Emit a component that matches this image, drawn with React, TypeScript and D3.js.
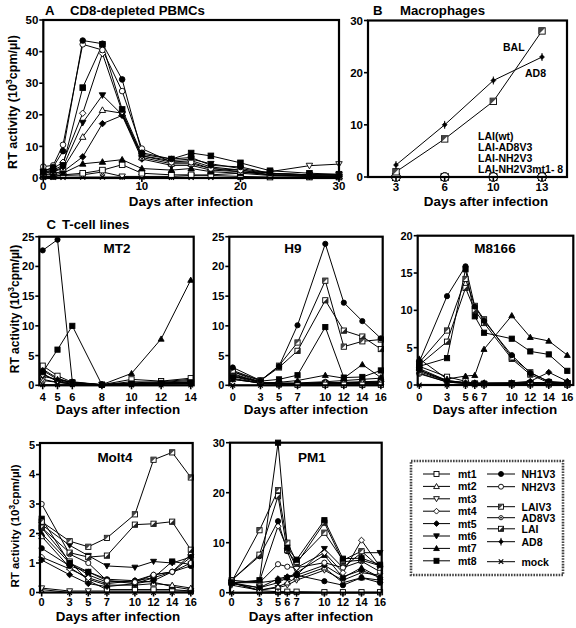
import React from "react";
import * as d3 from "d3";

// ---------- Panel A: CD8-depleted PBMCs ----------
const daysA = [0, 1, 2, 4, 6, 8, 10, 13, 15, 17, 20, 23, 27, 30];
const a_NH1V3 = [2, 3.5, 8.5, 43.5, 42.5, 31.2, 8, 6, 6.5, 4, 3.5, 1.5, 1, 0.8];
const a_NH2V3 = [3.6, 4, 10.5, 42.3, 40.5, 27.5, 9.3, 5, 5, 3, 2.5, 1, 1, 1];
const a_mt8 = [2, 2.5, 4, 28.6, 42.3, 21.7, 7.5, 6, 7.9, 7, 4.8, 2.3, 1.5, 1.2];
const a_mt4 = [2.5, 3, 5, 20.5, 39.4, 21, 7, 5, 5.5, 3.5, 2.5, 1.5, 1, 1];
const a_mt6 = [2, 2, 3.5, 17.5, 26.2, 20, 7, 5.5, 6, 4.5, 3, 1.5, 1, 1];
const a_mt2 = [1.5, 2, 3, 13, 21.5, 20.5, 6.5, 4.5, 4.5, 3, 2, 1, 0.8, 0.5];
const a_mt5 = [1, 1.5, 2, 6.7, 17.2, 19.8, 6, 4, 4, 2.5, 2, 1, 0.5, 0.5];
const a_mt7 = [1, 1, 1.5, 4.5, 5.1, 5.8, 3, 2.5, 3, 2, 1.5, 0.8, 0.5, 0.5];
const a_mt1 = [0.5, 0.5, 1, 1.5, 2.5, 4.2, 1.5, 1, 1, 0.8, 0.5, 0.3, 0.3, 0.3];
const a_mt3 = [0.5, 0.5, 0.8, 1, 1.9, 0.5, 0.5, 0.5, 0.8, 1, 1.5, 2, 3.9, 4.4];
const a_mock = [0.2, 0.2, 0.2, 0.3, 0.3, 0.3, 0.3, 0.2, 0.2, 0.2, 0.2, 0.2, 0.2, 0.2];
const ticksAx = [0, 10, 20, 30];
const ticksAy = [0, 10, 20, 30, 40, 50];

// ---------- Panel B: Macrophages ----------
const daysB = ["3", "6", "10", "13"];
const b_BAL = [1, 7.3, 14.5, 28];
const b_AD8 = [2.3, 10, 18.5, 23];
const b_LAIwt = [0, 0, 0, 0];
const b_LAIAD8V3 = [0, 0, 0, 0];
const b_LAINH2V3 = [0, 0, 0, 0];
const b_LAINH2V3mt = [0, 0, 0, 0];
const ticksBy = [0, 10, 20, 30];
const labelsBzero = ["LAI(wt)", "LAI-AD8V3", "LAI-NH2V3", "LAI-NH2V3mt1- 8"];

// ---------- Panel C: MT2 ----------
const daysMT2 = [4, 5, 6, 8, 10, 12, 14];
const mt2_NH1V3 = [22.7, 24.5, 0.6, 0.1, 0.2, 0.3, 0.3];
const mt2_mt8 = [2.2, 6, 10, 0.1, 0.3, 0.4, 0.5];
const mt2_mt7 = [2.5, 1, 0.4, 0.1, 2, 7.8, 17.7];
const mt2_mt1 = [3.3, 1.6, 0.5, 0.1, 1, 0.7, 1.2];
const mt2_mt2 = [2.7, 1.2, 0.4, 0.1, 0.6, 0.5, 0.8];
const mt2_mt4 = [1.8, 0.8, 0.3, 0.1, 0.4, 0.6, 1];
const mt2_mt5 = [2, 0.6, 0.2, 0.1, 0.3, 0.4, 0.6];
const mt2_mt6 = [1.5, 1, 0.5, 0.1, 0.2, 0.3, 0.4];
const mt2_mt3 = [1, 0.5, 0.2, 0.1, 0.2, 0.2, 0.3];
const mt2_NH2V3 = [0.8, 0.5, 0.3, 0.1, 0.2, 0.3, 0.5];
const mt2_mock = [0.1, 0.1, 0.1, 0.05, 0.05, 0.05, 0.05];
const ticksMT2y = [0, 5, 10, 15, 20, 25];

// ---------- Panel C: H9 ----------
const daysH9 = [0, 3, 5, 7, 10, 12, 14, 16];
const h9_NH1V3 = [3, 0.8, 3.2, 10.1, 23.8, 13.9, 10.8, 7.9];
const h9_LAIV3 = [2.5, 0.8, 3.3, 7.2, 17.6, 6.5, 7.4, 7.7];
const h9_LAI = [2.3, 0.8, 3, 5.8, 14.3, 9.2, 8.2, 6.1];
const h9_mt8 = [1.5, 0.7, 1, 1.7, 9.8, 1.3, 1.4, 2.5];
const h9_mt7 = [1, 0.4, 0.5, 0.8, 1.7, 1.2, 3.5, 1.3];
const h9_mt1 = [2.3, 0.5, 0.2, 0.1, 0.1, 0.1, 0.1, 0.1];
const h9_mt2 = [2, 0.4, 0.3, 0.3, 0.5, 0.4, 0.5, 0.5];
const h9_mt3 = [1.5, 0.3, 0.2, 0.2, 0.3, 0.3, 0.3, 0.3];
const h9_mt4 = [1.8, 0.5, 0.3, 0.3, 0.4, 0.5, 0.6, 0.7];
const h9_mt5 = [1.2, 0.3, 0.2, 0.2, 0.3, 0.4, 0.5, 0.6];
const h9_mt6 = [1, 0.4, 0.3, 0.3, 0.4, 0.4, 0.5, 0.5];
const h9_NH2V3 = [1.6, 0.5, 0.4, 0.4, 0.6, 0.8, 1, 1.2];
const h9_mock = [0, 0, 0, 0, 0, 0, 0, 0];
const ticksH9y = [0, 5, 10, 15, 20, 25];

// ---------- Panel C: M8166 ----------
const daysM8 = [0, 3, 5, 6, 7, 10, 12, 14, 16];
const m8_NH1V3 = [3.1, 11.9, 15.9, 10.5, 8.6, 4, 1.6, 0.5, 0.3];
const m8_mt8 = [2.5, 3.6, 15.5, 9.2, 7, 6.2, 4.5, 4.1, 1.9];
const m8_LAIV3 = [3, 7.3, 14.2, 10.6, 8.8, 3.7, 1.7, 0.4, 0.1];
const m8_LAI = [2.7, 5.8, 13, 10, 8.3, 3.5, 1.4, 0.3, 0.1];
const m8_mt7 = [3.5, 0.8, 1.2, 1.3, 4.8, 9.3, 6.4, 5.9, 4];
const m8_mt5 = [2, 0.5, 0.3, 0.3, 0.3, 0.3, 0.5, 1.7, 0.5];
const m8_mt1 = [2.5, 1.1, 0.5, 0.2, 0.1, 0.1, 0.1, 0.1, 0.1];
const m8_mt2 = [2.2, 0.6, 0.3, 0.2, 0.2, 0.2, 0.3, 0.3, 0.3];
const m8_mt3 = [1.8, 0.5, 0.3, 0.2, 0.2, 0.3, 0.3, 0.3, 0.3];
const m8_mt4 = [1.6, 0.4, 0.2, 0.2, 0.2, 0.2, 0.2, 0.3, 0.3];
const m8_mt6 = [2, 0.6, 0.3, 0.2, 0.2, 0.2, 0.3, 0.3, 0.3];
const m8_NH2V3 = [1.5, 0.4, 0.2, 0.2, 0.2, 0.2, 0.3, 0.2, 0.2];
const m8_mock = [0, 0, 0, 0, 0, 0, 0, 0, 0];
const ticksM8y = [0, 5, 10, 15, 20];

// ---------- Panel C: Molt4 ----------
const daysMolt = [0, 3, 5, 7, 10, 12, 14, 16];
const mo_LAIV3 = [2.4, 1.74, 1.55, 1.85, 2.65, 4.5, 4.75, 3.9];
const mo_LAI = [2.2, 1.35, 1.2, 1.25, 2.3, 2.33, 2.4, 1.45];
const mo_mt6 = [2.3, 1.6, 1.25, 0.9, 0.85, 1.05, 1.0, 1.2];
const mo_NH2V3 = [3.0, 1.3, 1.0, 0.4, 0.35, 0.6, 0.7, 1.0];
const mo_NH1V3 = [1.5, 0.9, 0.7, 0.45, 0.4, 0.5, 0.7, 0.9];
const mo_mt8 = [2.5, 1.0, 0.7, 0.4, 0.3, 0.5, 1.05, 0.95];
const mo_mt5 = [1.1, 0.6, 0.3, 0.2, 0.3, 0.4, 0.7, 1.2];
const mo_mt4 = [1.2, 0.8, 0.5, 0.3, 0.4, 0.6, 0.7, 1.3];
const mo_mt2 = [1.9, 0.85, 0.45, 0.25, 0.25, 0.3, 0.25, 0.15];
const mo_mt7 = [2.0, 1.0, 0.6, 0.35, 0.4, 0.35, 0.2, 0.1];
const mo_mt1 = [2.2, 1.05, 0.4, 0.1, 0.1, 0.1, 0.1, 0.05];
const mo_mt3 = [0.15, 0.05, 0.05, 0.05, 0.05, 0.05, 0.05, 0.05];
const mo_mock = [0.1, 0, 0, 0, 0, 0, 0, 0];
const ticksMoy = [0, 1, 2, 3, 4, 5];

// ---------- Panel C: PM1 ----------
const daysPM1 = [0, 3, 5, 6, 7, 10, 12, 14, 16];
const pm_mt8 = [2, 2.5, 30, 9, 6.6, 14.5, 6.8, 6.9, 5.6];
const pm_LAIV3 = [2.2, 12.5, 20.5, 10, 6.2, 12, 6.5, 8.3, 5];
const pm_LAI = [2.5, 7.6, 19.3, 8.5, 5.8, 14, 6.2, 6.5, 5.4];
const pm_NH1V3 = [2.5, 7.3, 14.3, 8.3, 3.5, 2.3, 1.5, 3, 2];
const pm_mt4 = [2, 2.3, 13.3, 8.8, 5, 8, 4, 10.5, 5.2];
const pm_NH2V3 = [2, 2, 5.7, 5.2, 5, 6, 5, 6.3, 4.2];
const pm_mt6 = [2, 1, 2, 3, 3.5, 8.8, 5, 8, 8];
const pm_mt7 = [2.5, 2, 2.5, 3, 4, 7.5, 3, 5, 3];
const pm_mt5 = [1.8, 1, 2.8, 3.2, 3.5, 5.5, 3.2, 4.5, 3];
const pm_mt2 = [2, 0.5, 1.2, 2, 3, 5, 2, 3, 2.5];
const pm_mt3 = [1.5, 0.5, 1, 1.5, 2.5, 4.5, 2.5, 4, 3.5];
const pm_mt1 = [2, 0.4, 0.2, 0.2, 0.2, 0.1, 0.1, 0.1, 0.1];
const pm_mock = [0, 0, 0, 0, 0, 0, 0, 0, 0];
const ticksPMy = [0, 10, 20, 30];

const ticksC16 = [0, 3, 5, 7, 10, 12, 14, 16];
const ticksC16b = [0, 3, 5, 6, 7, 10, 12, 14, 16];
const ticksMT2x = [4, 5, 6, 8, 10, 12, 14];

// ---------- Legend ----------
const legendLeft = ["mt1", "mt2", "mt3", "mt4", "mt5", "mt6", "mt7", "mt8"];
const legendRight = ["NH1V3", "NH2V3", "LAIV3", "AD8V3", "LAI", "AD8", "mock"];

const markerOf: Record<string, string> = {
  mt1: "sqOpen",
  mt2: "triUpOpen",
  mt3: "triDownOpen",
  mt4: "diaOpen",
  mt5: "diaFill",
  mt6: "triDownFill",
  mt7: "triUpFill",
  mt8: "sqFill",
  NH1V3: "circFill",
  NH2V3: "circOpen",
  LAIV3: "sqHalf",
  AD8V3: "circDot",
  LAI: "sqHalf2",
  AD8: "diaCross",
  mock: "cross",
};

const FONT = "'Liberation Sans', Arial, Helvetica, sans-serif";

type Ser = { key: string; values: number[]; marker?: string; size?: number };

function Marker({ kind, x, y, s = 2.8 }: { kind: string; x: number; y: number; s?: number }) {
  const sw = 0.9;
  switch (kind) {
    case "sqOpen":
      return <rect x={x - s} y={y - s} width={2 * s} height={2 * s} fill="white" stroke="black" strokeWidth={sw} />;
    case "sqFill":
      return <rect x={x - s} y={y - s} width={2 * s} height={2 * s} fill="black" stroke="black" strokeWidth={sw} />;
    case "sqHalf":
      return (
        <g>
          <rect x={x - s} y={y - s} width={2 * s} height={2 * s} fill="white" stroke="black" strokeWidth={sw} />
          <polygon points={`${x - s},${y - s} ${x + s},${y - s} ${x - s},${y + s}`} fill="#444" />
        </g>
      );
    case "sqHalf2":
      return (
        <g>
          <rect x={x - s} y={y - s} width={2 * s} height={2 * s} fill="white" stroke="black" strokeWidth={sw} />
          <polygon points={`${x + s},${y - s} ${x + s},${y + s} ${x - s},${y + s}`} fill="#222" />
        </g>
      );
    case "circOpen":
      return <circle cx={x} cy={y} r={s} fill="white" stroke="black" strokeWidth={sw} />;
    case "circFill":
      return <circle cx={x} cy={y} r={s} fill="black" stroke="black" strokeWidth={sw} />;
    case "circDot":
      return (
        <g>
          <circle cx={x} cy={y} r={s * 0.85} fill="white" stroke="black" strokeWidth={sw} />
          <circle cx={x} cy={y} r={s * 0.35} fill="black" />
        </g>
      );
    case "triUpOpen":
    case "triUpFill": {
      const f = kind === "triUpFill" ? "black" : "white";
      const t = s * 1.15;
      return <polygon points={`${x},${y - t} ${x + t},${y + t * 0.75} ${x - t},${y + t * 0.75}`} fill={f} stroke="black" strokeWidth={sw} />;
    }
    case "triDownOpen":
    case "triDownFill": {
      const f = kind === "triDownFill" ? "black" : "white";
      const t = s * 1.15;
      return <polygon points={`${x},${y + t} ${x + t},${y - t * 0.75} ${x - t},${y - t * 0.75}`} fill={f} stroke="black" strokeWidth={sw} />;
    }
    case "diaOpen":
    case "diaFill": {
      const f = kind === "diaFill" ? "black" : "white";
      const t = s * 1.15;
      return <polygon points={`${x},${y - t} ${x + t},${y} ${x},${y + t} ${x - t},${y}`} fill={f} stroke="black" strokeWidth={sw} />;
    }
    case "diaCross": {
      const t = s * 0.95;
      return (
        <g>
          <line x1={x} x2={x} y1={y - t * 1.6} y2={y + t * 1.6} stroke="black" strokeWidth={1} />
          <polygon points={`${x},${y - t} ${x + t},${y} ${x},${y + t} ${x - t},${y}`} fill="black" stroke="black" strokeWidth={0.6} />
        </g>
      );
    }
    case "cross": {
      const t = s * 0.9;
      return (
        <g stroke="black" strokeWidth={1.2}>
          <line x1={x - t} y1={y - t} x2={x + t} y2={y + t} />
          <line x1={x - t} y1={y + t} x2={x + t} y2={y - t} />
        </g>
      );
    }
    default:
      return null;
  }
}

type PanelProps = {
  left: number;
  right: number;
  top: number;
  bottom: number;
  x: (d: any) => number;
  y: d3.ScaleLinear<number, number>;
  days: any[];
  series: Ser[];
  xTicks: any[];
  yTicks: number[];
  tickFont: number;
  xLabelGap: number;
  ms?: number;
};

function Panel({ left, right, top, bottom, x, y, days, series, xTicks, yTicks, tickFont, xLabelGap, ms = 2.8 }: PanelProps) {
  const line = d3
    .line<number>()
    .x((_, i) => x(days[i]))
    .y((v) => y(v));
  return (
    <g>
      {series.map((s) => (
        <path key={"l" + s.key} d={line(s.values) || ""} fill="none" stroke="black" strokeWidth={1} />
      ))}
      {series.map((s) => (
        <g key={"m" + s.key}>
          {s.values.map((v, i) => (
            <Marker key={i} kind={s.marker || markerOf[s.key]} x={x(days[i])} y={y(v)} s={s.size || ms} />
          ))}
        </g>
      ))}
      <rect x={left} y={top} width={right - left} height={bottom - top} fill="none" stroke="black" strokeWidth={2.2} />
      {yTicks.map((t) => (
        <g key={"yt" + t}>
          <line x1={left - 4} x2={left} y1={y(t)} y2={y(t)} stroke="black" strokeWidth={1.6} />
          <text x={left - 5} y={y(t) + tickFont * 0.36} textAnchor="end" fontSize={tickFont} fontWeight="bold" fontFamily={FONT}>
            {t}
          </text>
        </g>
      ))}
      {xTicks.map((t) => (
        <g key={"xt" + t}>
          <line x1={x(t)} x2={x(t)} y1={bottom} y2={bottom + 4} stroke="black" strokeWidth={1.6} />
          <text x={x(t)} y={bottom + xLabelGap} textAnchor="middle" fontSize={tickFont} fontWeight="bold" fontFamily={FONT}>
            {t}
          </text>
        </g>
      ))}
    </g>
  );
}

function YLabel({ cx, cy, size }: { cx: number; cy: number; size: number }) {
  return (
    <text
      transform={`translate(${cx},${cy}) rotate(-90)`}
      textAnchor="middle"
      fontSize={size}
      fontWeight="bold"
      fontFamily={FONT}
    >
      RT activity (10
      <tspan fontSize={size * 0.72} dy={-size * 0.38}>
        3
      </tspan>
      <tspan dy={size * 0.38}>cpm/µl)</tspan>
    </text>
  );
}

function T({ x, y, size, anchor = "start", children }: any) {
  return (
    <text x={x} y={y} fontSize={size} fontWeight="bold" fontFamily={FONT} textAnchor={anchor}>
      {children}
    </text>
  );
}

export default function App() {
  // Panel A
  const xA = d3.scaleLinear().domain([0, 30]).range([43.3, 339]);
  const yA = d3.scaleLinear().domain([0, 50]).range([178, 20]);
  const serA: Ser[] = [
    { key: "mock", values: a_mock },
    { key: "mt3", values: a_mt3 },
    { key: "mt1", values: a_mt1 },
    { key: "mt7", values: a_mt7 },
    { key: "mt5", values: a_mt5 },
    { key: "mt2", values: a_mt2 },
    { key: "mt6", values: a_mt6 },
    { key: "mt4", values: a_mt4 },
    { key: "mt8", values: a_mt8 },
    { key: "NH2V3", values: a_NH2V3 },
    { key: "NH1V3", values: a_NH1V3 },
  ];

  // Panel B
  const xB = d3.scalePoint<string>().domain(daysB).range([396, 542]);
  const yB = d3.scaleLinear().domain([0, 30]).range([177, 20.5]);
  const serB: Ser[] = [
    { key: "LAIwt", values: b_LAIwt, marker: "sqOpen", size: 3.6 },
    { key: "LAIAD8V3", values: b_LAIAD8V3, marker: "circOpen", size: 4.2 },
    { key: "LAINH2V3", values: b_LAINH2V3, marker: "circOpen", size: 4.2 },
    { key: "LAINH2V3mt", values: b_LAINH2V3mt, marker: "circOpen", size: 4.2 },
    { key: "BAL", values: b_BAL, marker: "sqHalf", size: 3.2 },
    { key: "AD8", values: b_AD8, marker: "diaCross", size: 2.6 },
  ];

  // MT2
  const xMT2 = d3.scaleLinear().domain([3.77, 14.2]).range([39.3, 193.7]);
  const yMT2 = d3.scaleLinear().domain([0, 25]).range([385.3, 236.7]);
  const serMT2: Ser[] = [
    { key: "mock", values: mt2_mock },
    { key: "NH2V3", values: mt2_NH2V3 },
    { key: "mt3", values: mt2_mt3 },
    { key: "mt6", values: mt2_mt6 },
    { key: "mt5", values: mt2_mt5 },
    { key: "mt4", values: mt2_mt4 },
    { key: "mt2", values: mt2_mt2 },
    { key: "mt1", values: mt2_mt1 },
    { key: "mt7", values: mt2_mt7 },
    { key: "mt8", values: mt2_mt8 },
    { key: "NH1V3", values: mt2_NH1V3 },
  ];

  // H9
  const xH9 = d3.scaleLinear().domain([-0.37, 16.2]).range([229.3, 382.7]);
  const yH9 = d3.scaleLinear().domain([0, 25]).range([385.3, 236.7]);
  const serH9: Ser[] = [
    { key: "mock", values: h9_mock },
    { key: "NH2V3", values: h9_NH2V3 },
    { key: "mt6", values: h9_mt6 },
    { key: "mt5", values: h9_mt5 },
    { key: "mt4", values: h9_mt4 },
    { key: "mt3", values: h9_mt3 },
    { key: "mt2", values: h9_mt2 },
    { key: "mt1", values: h9_mt1 },
    { key: "mt7", values: h9_mt7 },
    { key: "mt8", values: h9_mt8 },
    { key: "LAI", values: h9_LAI },
    { key: "LAIV3", values: h9_LAIV3 },
    { key: "NH1V3", values: h9_NH1V3 },
  ];

  // M8166
  const xM8 = d3.scaleLinear().domain([-0.17, 16.65]).range([417.7, 573.3]);
  const yM8 = d3.scaleLinear().domain([0, 20]).range([385, 235.7]);
  const serM8: Ser[] = [
    { key: "mock", values: m8_mock },
    { key: "NH2V3", values: m8_NH2V3 },
    { key: "mt6", values: m8_mt6 },
    { key: "mt4", values: m8_mt4 },
    { key: "mt3", values: m8_mt3 },
    { key: "mt2", values: m8_mt2 },
    { key: "mt1", values: m8_mt1 },
    { key: "mt5", values: m8_mt5 },
    { key: "mt7", values: m8_mt7 },
    { key: "LAI", values: m8_LAI },
    { key: "LAIV3", values: m8_LAIV3 },
    { key: "mt8", values: m8_mt8 },
    { key: "NH1V3", values: m8_NH1V3 },
  ];

  // Molt4
  const xMo = d3.scaleLinear().domain([-0.18, 16.2]).range([40, 192.7]);
  const yMo = d3.scaleLinear().domain([0, 5]).range([592.5, 445]);
  const serMo: Ser[] = [
    { key: "mock", values: mo_mock },
    { key: "mt3", values: mo_mt3 },
    { key: "mt1", values: mo_mt1 },
    { key: "mt7", values: mo_mt7 },
    { key: "mt2", values: mo_mt2 },
    { key: "mt4", values: mo_mt4 },
    { key: "mt5", values: mo_mt5 },
    { key: "mt8", values: mo_mt8 },
    { key: "NH1V3", values: mo_NH1V3 },
    { key: "NH2V3", values: mo_NH2V3 },
    { key: "mt6", values: mo_mt6 },
    { key: "LAI", values: mo_LAI },
    { key: "LAIV3", values: mo_LAIV3 },
  ];

  // PM1
  const xPM = d3.scaleLinear().domain([-0.18, 16.18]).range([230, 381.7]);
  const yPM = d3.scaleLinear().domain([0, 30]).range([592.7, 442.7]);
  const serPM: Ser[] = [
    { key: "mock", values: pm_mock },
    { key: "mt1", values: pm_mt1 },
    { key: "mt3", values: pm_mt3 },
    { key: "mt2", values: pm_mt2 },
    { key: "mt5", values: pm_mt5 },
    { key: "mt7", values: pm_mt7 },
    { key: "mt6", values: pm_mt6 },
    { key: "NH2V3", values: pm_NH2V3 },
    { key: "mt4", values: pm_mt4 },
    { key: "NH1V3", values: pm_NH1V3 },
    { key: "LAI", values: pm_LAI },
    { key: "LAIV3", values: pm_LAIV3 },
    { key: "mt8", values: pm_mt8 },
  ];

  const legRowsL = legendLeft.map((_, i) => 474 + i * 12.4);
  const legRowsR = [474, 486.7, 506.7, 517.7, 528.8, 541.7, 561.7];

  return (
    <svg width={576} height={628} style={{ position: "absolute", left: 0, top: 0, background: "white" }}>
      <rect x={0} y={0} width={576} height={628} fill="white" />

      {/* Panel A */}
      <T x={45} y={14.5} size={13.2}>A</T>
      <T x={70} y={14.5} size={13.2}>CD8-depleted PBMCs</T>
      <Panel left={43.3} right={339} top={20} bottom={178} x={xA} y={yA} days={daysA} series={serA} xTicks={ticksAx} yTicks={ticksAy} tickFont={11.5} xLabelGap={11.8} ms={2.8} />
      <YLabel cx={17} cy={102} size={12.5} />
      <T x={191} y={206} size={13.4} anchor="middle">Days after infection</T>

      {/* Panel B */}
      <T x={373} y={14.5} size={13.2}>B</T>
      <T x={400} y={14.5} size={13.2}>Macrophages</T>
      <Panel left={368} right={567} top={20.5} bottom={177} x={(d: string) => xB(d) as number} y={yB} days={daysB} series={serB} xTicks={daysB} yTicks={ticksBy} tickFont={11.5} xLabelGap={14.2} />
      <T x={503} y={51} size={10.5}>BAL</T>
      <T x={525} y={77} size={10.5}>AD8</T>
      {labelsBzero.map((l, i) => (
        <T key={l} x={478} y={140 + i * 11.1} size={10.5}>
          {l}
        </T>
      ))}
      <T x={486} y={206} size={13.4} anchor="middle">Days after infection</T>

      {/* Panel C heading */}
      <T x={46.5} y={229} size={13.2}>C</T>
      <T x={62} y={229} size={13.2}>T-cell lines</T>

      {/* MT2 */}
      <Panel left={39.3} right={193.7} top={236.7} bottom={385.3} x={xMT2} y={yMT2} days={daysMT2} series={serMT2} xTicks={ticksMT2x} yTicks={ticksMT2y} tickFont={11} xLabelGap={15.5} ms={2.6} />
      <T x={117} y={253} size={13.5} anchor="middle">MT2</T>
      <YLabel cx={19} cy={309} size={12} />
      <T x={118} y={414} size={13.4} anchor="middle">Days after infection</T>

      {/* H9 */}
      <Panel left={229.3} right={382.7} top={236.7} bottom={385.3} x={xH9} y={yH9} days={daysH9} series={serH9} xTicks={ticksC16} yTicks={ticksH9y} tickFont={11} xLabelGap={15.5} ms={2.6} />
      <T x={293} y={253} size={13.5} anchor="middle">H9</T>
      <T x={306} y={414} size={13.4} anchor="middle">Days after infection</T>

      {/* M8166 */}
      <Panel left={417.7} right={573.3} top={235.7} bottom={385} x={xM8} y={yM8} days={daysM8} series={serM8} xTicks={ticksC16b} yTicks={ticksM8y} tickFont={11} xLabelGap={15.5} ms={2.6} />
      <T x={495} y={252.5} size={13.5} anchor="middle">M8166</T>
      <T x={495} y={414} size={13.4} anchor="middle">Days after infection</T>

      {/* Molt4 */}
      <Panel left={40} right={192.7} top={443} bottom={592.5} x={xMo} y={yMo} days={daysMolt} series={serMo} xTicks={ticksC16} yTicks={ticksMoy} tickFont={11} xLabelGap={13.5} ms={2.6} />
      <T x={115} y={462} size={13.5} anchor="middle">Molt4</T>
      <YLabel cx={19} cy={526} size={11.5} />
      <T x={118} y={621} size={13.4} anchor="middle">Days after infection</T>

      {/* PM1 */}
      <Panel left={230} right={381.7} top={442.7} bottom={592.7} x={xPM} y={yPM} days={daysPM1} series={serPM} xTicks={ticksC16b} yTicks={ticksPMy} tickFont={11} xLabelGap={13.5} ms={2.6} />
      <T x={312} y={462} size={13.5} anchor="middle">PM1</T>
      <T x={311} y={621} size={13.4} anchor="middle">Days after infection</T>

      {/* Legend */}
      <rect x={411} y={461} width={152} height={114} fill="white" stroke="#444" strokeWidth={2.6} strokeDasharray="1.6 1.2" />
      {legendLeft.map((k, i) => (
        <g key={k}>
          <line x1={423} x2={450} y1={legRowsL[i]} y2={legRowsL[i]} stroke="black" strokeWidth={1} />
          <Marker kind={markerOf[k]} x={436.5} y={legRowsL[i]} s={2.5} />
          <T x={458} y={legRowsL[i] + 4} size={10.5}>
            {k}
          </T>
        </g>
      ))}
      {legendRight.map((k, i) => (
        <g key={k}>
          <line x1={487} x2={515} y1={legRowsR[i]} y2={legRowsR[i]} stroke="black" strokeWidth={1} />
          <Marker kind={markerOf[k]} x={501} y={legRowsR[i]} s={2.5} />
          <T x={521.5} y={legRowsR[i] + 4} size={10.5}>
            {k}
          </T>
        </g>
      ))}
    </svg>
  );
}
